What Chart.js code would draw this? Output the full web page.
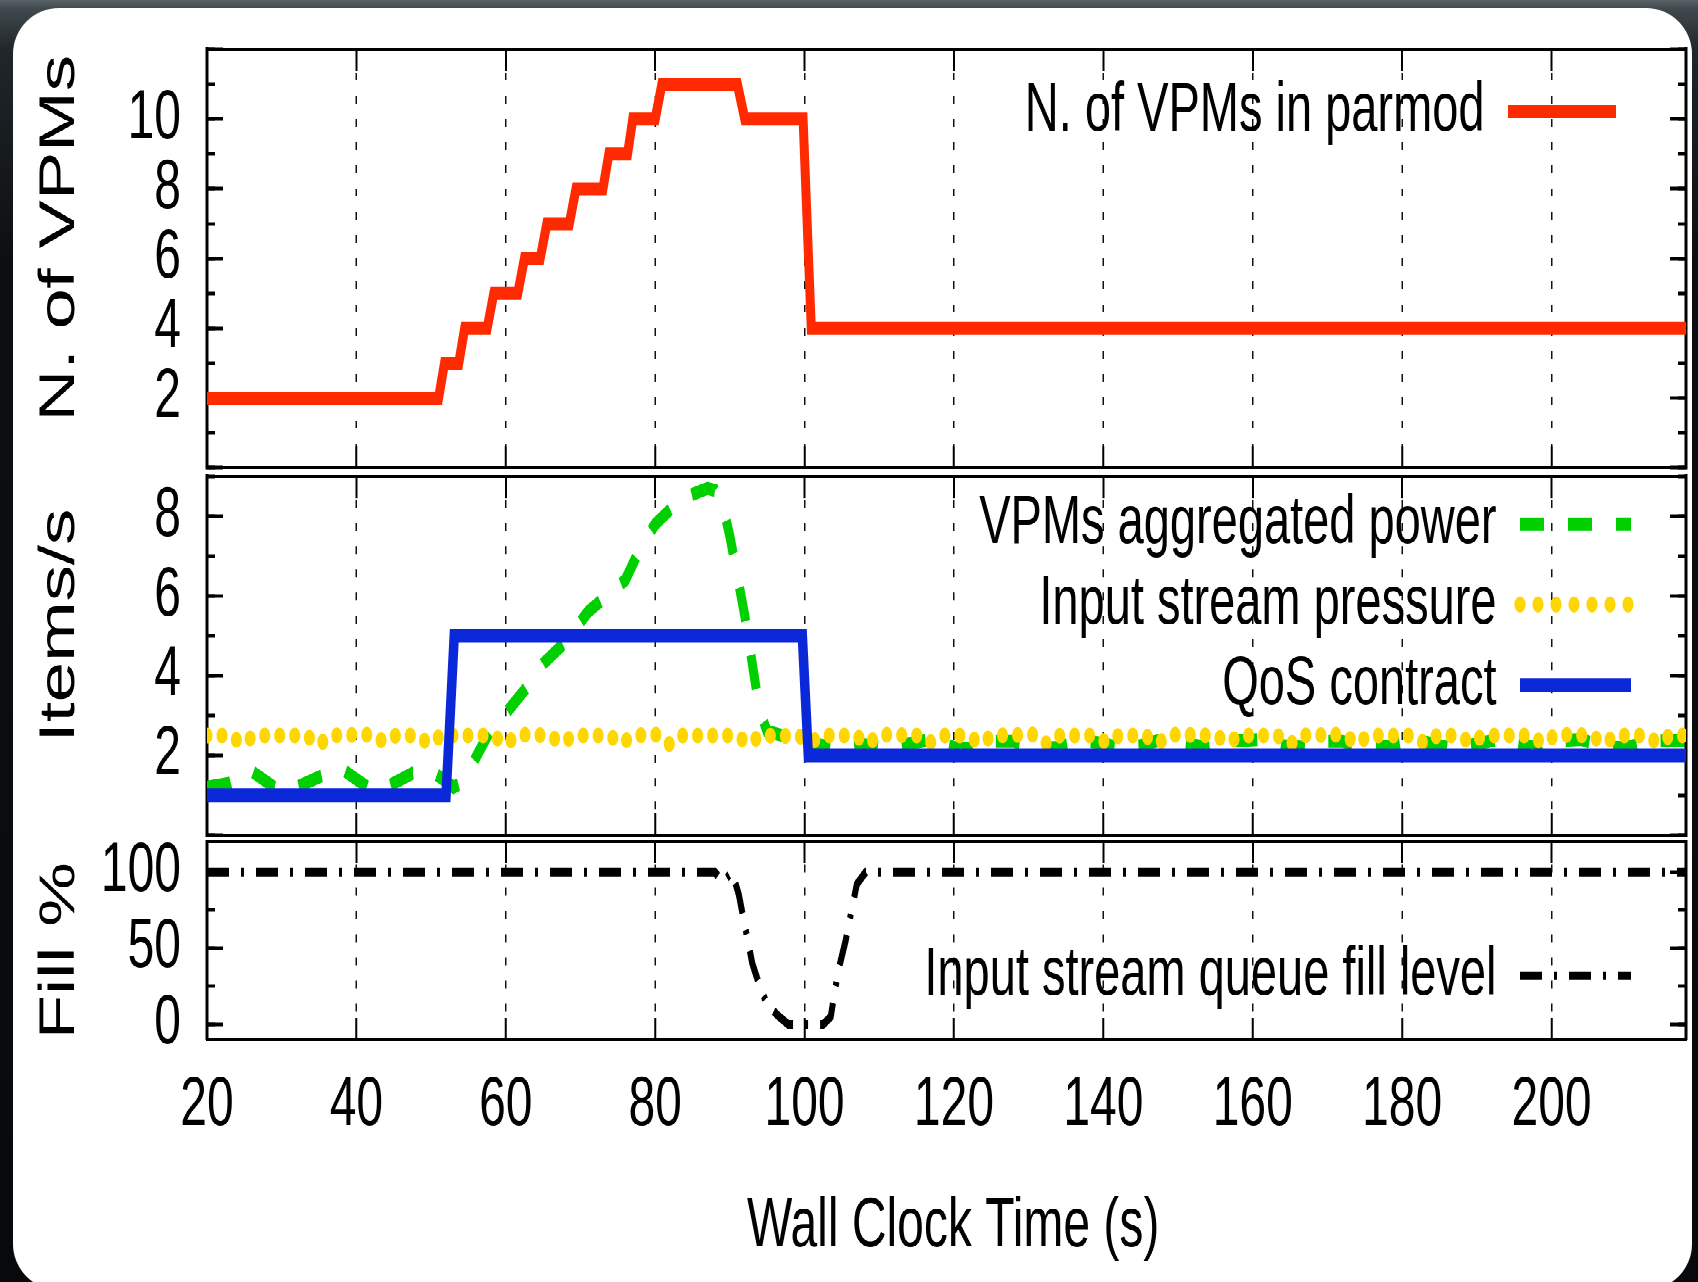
<!DOCTYPE html>
<html>
<head>
<meta charset="utf-8">
<script src="https://cdn.jsdelivr.net/npm/chart.js@4.4.1/dist/chart.umd.min.js"></script>
<style>
  html, body { margin: 0; padding: 0; }
  body {
    width: 1698px; height: 1282px; overflow: hidden; position: relative;
    background: linear-gradient(180deg, #5a6468 0px, #414a4e 8px, #20262a 50px, #0c0f12 260px, #08090b 100%);
  }
  #panel { position: absolute; left: 13px; top: 8px; width: 1679px; height: 1282px; background: #fff; border-radius: 46px; }
  /* the picture is stretched vertically, so charts are drawn flat and scaled */
  #stretch { position: absolute; left: 0; top: 0; width: 1698px; height: 884px; transform: scaleY(1.45); transform-origin: 0 0; }
  .box { position: absolute; left: 0; width: 1698px; }
</style>
</head>
<body>
<div id="panel"></div>
<div id="stretch">
  <div class="box" style="top:0;height:326px"><canvas id="vpmChart"></canvas></div>
  <div class="box" style="top:326px;height:252px"><canvas id="rateChart"></canvas></div>
  <div class="box" style="top:578px;height:306px"><canvas id="fillChart"></canvas></div>
</div>
<script>
const FONT = "'Liberation Sans', Arial, sans-serif";

const xMin = 20, xMax = 218;
const timeTicks = [20, 40, 60, 80, 100, 120, 140, 160, 180, 200];

// top panel: number of VPMs
const vpmTime = [20, 51, 51.8, 53.7, 54.5, 57.5, 58.4, 61.6, 62.5, 64.6, 65.5, 68.5, 69.4, 73, 73.8, 76.3, 77, 80, 80.9, 91, 92, 99.8, 100.9, 218];
const vpmCount = [2, 2, 3, 3, 4, 4, 5, 5, 6, 6, 7, 7, 8, 8, 9, 9, 10, 10, 11, 11, 10, 10, 4, 4];
const vpmTicks = [2, 4, 6, 8, 10];

// middle panel: items/s
const powerTime = [20, 23, 26, 29, 32, 35.5, 38.5, 41.5, 44, 47.5, 50.5, 53, 54.5, 56, 58, 60.4, 63, 65, 68, 71, 73.5, 76, 78, 80, 83, 85, 87, 88, 89, 90, 91, 92, 93, 94, 95, 97, 100, 101, 104, 107, 110, 113, 117, 120, 123, 125, 128, 131, 134, 137, 140, 142, 145, 148, 151, 154, 157, 161, 164, 167, 169, 172, 175, 178, 181, 184, 186, 189, 193, 196, 198, 200, 204, 207, 210, 213, 218];
const powerRate = [1.2, 1.3, 1.6, 1.2, 1.2, 1.5, 1.6, 1.2, 1.2, 1.55, 1.55, 1.2, 1.35, 1.95, 2.65, 3.15, 3.75, 4.3, 4.85, 5.6, 6.0, 6.4, 7.2, 7.8, 8.35, 8.55, 8.7, 8.65, 8.3, 7.5, 6.5, 5.5, 4.3, 3.1, 2.6, 2.5, 2.45, 2.3, 2.2, 2.3, 2.2, 2.25, 2.4, 2.2, 2.15, 2.35, 2.35, 2.18, 2.2, 2.38, 2.3, 2.2, 2.25, 2.4, 2.3, 2.2, 2.35, 2.4, 2.25, 2.2, 2.35, 2.35, 2.2, 2.22, 2.4, 2.3, 2.2, 2.25, 2.4, 2.25, 2.2, 2.35, 2.4, 2.2, 2.2, 2.35, 2.38];

const pressureTime = [20, 23, 24.7, 26.4, 33.3, 35, 36.7, 41.9, 43.6, 45.3, 48, 49.7, 51.4, 58.3, 60, 61.7, 65.8, 67.5, 69.2, 73.8, 75.5, 77.2, 80.3, 82, 83.7, 90.8, 92.5, 94.2, 99.3, 101, 102.7, 106.8, 108.5, 110.2, 115.1, 116.8, 118.5, 121.8, 123.5, 125.2, 130.8, 132.5, 134.2, 138.7, 140.4, 142.1, 145.6, 147.3, 149, 155, 156.7, 158.4, 163.3, 165, 166.7, 172.2, 173.9, 175.6, 181.3, 183, 184.7, 187.5, 189.2, 190.9, 197.2, 198.9, 200.6, 205.3, 207, 208.7, 212.5, 214.2, 215.9, 218];
const pressureRate = [2.5,
  2.5, 2.3, 2.5,  2.5, 2.27, 2.5,  2.52, 2.35, 2.5,  2.5, 2.3, 2.5,
  2.5, 2.28, 2.52,  2.5, 2.32, 2.5,  2.5, 2.3, 2.5,  2.52, 2.27, 2.5,
  2.5, 2.3, 2.5,  2.48, 2.35, 2.5,  2.5, 2.3, 2.52,  2.5, 2.32, 2.5,
  2.5, 2.3, 2.5,  2.52, 2.28, 2.5,  2.5, 2.32, 2.5,  2.5, 2.3, 2.52,
  2.5, 2.33, 2.5,  2.5, 2.28, 2.5,  2.52, 2.3, 2.5,  2.5, 2.3, 2.5,
  2.5, 2.32, 2.5,  2.5, 2.3, 2.52,  2.5, 2.3, 2.5,  2.5, 2.32, 2.5,
  2.5];

const qosTime = [20, 52, 53.1, 99.7, 100.5, 218];
const qosRate = [1, 1, 5, 5, 2, 2];
const rateTicks = [2, 4, 6, 8];

// bottom panel: queue fill level
const fillTime = [20, 88, 89, 90.3, 91.2, 92, 93, 94, 95, 96.4, 97.8, 102.5, 103.5, 104.5, 105.5, 106.3, 107, 108.2, 218];
const fillLevel = [100, 100, 93, 100, 85, 65, 40, 25, 13, 6, 0, 0, 5, 35, 55, 75, 92, 100, 100];
const fillTicks = [0, 50, 100];

const pts = (xs, ys) => xs.map((x, i) => ({ x: x, y: ys[i] }));

// force axis box sizes so the three panels line up
const fit = (size) => (scale) => {
    if (scale.isHorizontal()) scale.height = size; else scale.width = size;
    scale.paddingLeft = scale.paddingRight = scale.paddingTop = scale.paddingBottom = 0;
};

// gnuplot style legend: sample on the right, text right-aligned, top right of the plot
const placeLegend = {
    id: 'placeLegend',
    afterLayout(chart, args, opts) {
        const lg = chart.legend;
        if (!lg) return;
        const pad = lg.options.labels.padding;
        lg.left = opts.right + pad - lg.width;
        lg.right = lg.left + lg.width;
        lg.top = opts.center - opts.size / 2 - pad;
        lg.bottom = chart.height;
    }
};

const makeLabels = (chart) => chart.data.datasets.map((ds, i) => ({
    text: ds.label,
    fillStyle: ds.borderColor,
    strokeStyle: ds.borderColor,
    lineWidth: ds.borderWidth,
    lineDash: ds.legendDash || ds.borderDash || [],
    lineCap: ds.borderCapStyle || 'butt',
    pointStyle: 'line',
    fontColor: '#000',
    hidden: false,
    datasetIndex: i
})).reverse();

function panelOptions(o) {
    const tickGrid = (len) => ({ display: true, drawOnChartArea: false, drawTicks: true, tickLength: len, tickWidth: 2.5, tickColor: '#000' });
    return {
        responsive: true,
        maintainAspectRatio: false,
        animation: false,
        devicePixelRatio: 2,
        layout: { autoPadding: false, padding: { left: 0, right: 12, top: o.padTop, bottom: o.padBottom } },
        plugins: {
            tooltip: { enabled: false },
            legend: {
                position: 'chartArea',
                align: 'start',
                rtl: true,
                labels: {
                    usePointStyle: true,
                    pointStyleWidth: o.sampleWidth,
                    boxHeight: 10,
                    padding: o.legendGap,
                    color: '#000',
                    font: { family: FONT, size: 47 },
                    generateLabels: makeLabels
                }
            },
            placeLegend: { right: o.legendRight, center: o.legendCenter, size: 47 }
        },
        scales: {
            x: {
                type: 'linear', position: 'bottom', min: xMin, max: xMax,
                afterFit: fit(o.xHeight || 0),
                ticks: {
                    display: !!o.xLabels, stepSize: 20, includeBounds: false, autoSkip: false, maxRotation: 0,
                    padding: 32, color: '#000', font: { family: FONT, size: 48 },
                    callback: (v) => timeTicks.includes(v) ? String(v) : ''
                },
                grid: { display: true, drawOnChartArea: true, drawTicks: true, tickLength: -15, color: '#111', lineWidth: 1.5, tickWidth: 2, tickColor: '#000' },
                border: { display: true, width: 2, color: '#000', dash: [5.5, 10.5] },
                title: {
                    display: !!o.xLabels, text: ' Wall Clock Time (s)', color: '#000',
                    font: { family: FONT, size: 48 }, padding: { top: 0, bottom: 9 }
                }
            },
            xTop: {
                type: 'linear', axis: 'x', position: 'top', min: xMin, max: xMax,
                afterFit: fit(0),
                ticks: { display: false, stepSize: 20, includeBounds: false, autoSkip: false },
                grid: { display: true, drawOnChartArea: false, drawTicks: true, tickLength: -15, tickWidth: 2, tickColor: '#000' },
                border: { display: true, width: 2, color: '#000' }
            },
            y: {
                type: 'linear', axis: 'y', position: 'left', weight: 1, min: o.yMin, max: o.yMax,
                afterFit: fit(207),
                ticks: {
                    stepSize: o.yMajor, includeBounds: false, autoSkip: false, padding: 42,
                    color: '#000', font: { family: FONT, size: 48 },
                    callback: (v) => o.yLabels.includes(v) ? String(v) : ''
                },
                grid: tickGrid(-16),
                border: { display: true, width: 3, color: '#000' },
                title: {
                    display: true, text: o.yTitle, color: '#000',
                    font: { family: FONT, size: 50 }, padding: { top: 30, bottom: 0 }
                }
            },
            yMinor: {
                type: 'linear', axis: 'y', position: 'left', weight: 0, min: o.yMin, max: o.yMax,
                afterFit: fit(0),
                ticks: { stepSize: o.yMinor, includeBounds: false, autoSkip: false, callback: () => '' },
                grid: tickGrid(-8),
                border: { display: false }
            },
            yRight: {
                type: 'linear', axis: 'y', position: 'right', weight: 1, min: o.yMin, max: o.yMax,
                afterFit: fit(0),
                ticks: { stepSize: o.yMajor, includeBounds: false, autoSkip: false, callback: () => '' },
                grid: tickGrid(-16),
                border: { display: true, width: 3, color: '#000' }
            },
            yRightMinor: {
                type: 'linear', axis: 'y', position: 'right', weight: 0, min: o.yMin, max: o.yMax,
                afterFit: fit(0),
                ticks: { stepSize: o.yMinor, includeBounds: false, autoSkip: false, callback: () => '' },
                grid: tickGrid(-8),
                border: { display: false }
            }
        }
    };
}

const lineBase = { xAxisID: 'x', yAxisID: 'y', pointRadius: 0, tension: 0, fill: false, borderJoinStyle: 'miter' };

new Chart(document.getElementById('vpmChart'), {
    type: 'line',
    data: {
        datasets: [
            Object.assign({}, lineBase, {
                label: 'N. of VPMs in parmod', data: pts(vpmTime, vpmCount),
                borderColor: '#ff2a00', backgroundColor: '#ff2a00', borderWidth: 9
            })
        ]
    },
    options: panelOptions({
        padTop: 34, padBottom: 3.4, yMin: 0, yMax: 12, yMajor: 2, yMinor: 1, yLabels: vpmTicks,
        yTitle: '  N. of VPMs', sampleWidth: 108, legendGap: 8, legendRight: 1616, legendCenter: 77
    }),
    plugins: [placeLegend]
});

new Chart(document.getElementById('rateChart'), {
    type: 'line',
    data: {
        datasets: [
            Object.assign({}, lineBase, {
                label: 'QoS contract', data: pts(qosTime, qosRate),
                borderColor: '#0a28d8', backgroundColor: '#0a28d8', borderWidth: 9.5
            }),
            Object.assign({}, lineBase, {
                label: 'Input stream pressure', data: pts(pressureTime, pressureRate),
                borderColor: '#ffd700', backgroundColor: '#ffd700', borderWidth: 11,
                borderDash: [0, 15], legendDash: [0, 18], borderCapStyle: 'round'
            }),
            Object.assign({}, lineBase, {
                label: 'VPMs aggregated power', data: pts(powerTime, powerRate),
                borderColor: '#00d000', backgroundColor: '#00d000', borderWidth: 9,
                borderDash: [24, 24]
            })
        ]
    },
    options: panelOptions({
        padTop: 2.6, padBottom: 2.1, yMin: 0, yMax: 9, yMajor: 2, yMinor: 1, yLabels: rateTicks,
        yTitle: '   Items/s', sampleWidth: 111, legendGap: 8.5, legendRight: 1631, legendCenter: 35.4
    }),
    plugins: [placeLegend]
});

new Chart(document.getElementById('fillChart'), {
    type: 'line',
    data: {
        datasets: [
            Object.assign({}, lineBase, {
                label: 'Input stream queue fill level', data: pts(fillTime, fillLevel),
                borderColor: '#000', backgroundColor: '#000', borderWidth: 6,
                borderDash: [22, 12, 3, 12]
            })
        ]
    },
    options: panelOptions({
        padTop: 2.3, padBottom: 0, xHeight: 167, xLabels: true,
        yMin: -10, yMax: 120, yMajor: 50, yMinor: 25, yLabels: fillTicks,
        yTitle: 'Fill % ', sampleWidth: 111, legendGap: 8, legendRight: 1631, legendCenter: 94.9
    }),
    plugins: [placeLegend]
});
</script>
</body>
</html>
